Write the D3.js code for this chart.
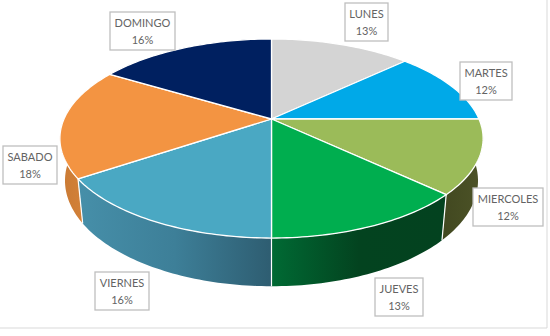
<!DOCTYPE html>
<meta charset="utf-8">
<style>
  html, body { margin: 0; padding: 0; background: #fff; }
  svg { display: block; }
</style>
<script src="https://d3js.org/d3.v7.min.js"></script>
<svg id="chart" width="550" height="336"></svg>
<script>
// (the labels show them rounded)
var days = ["LUNES", "MARTES", "MIERCOLES", "JUEVES", "VIERNES", "SABADO", "DOMINGO"];
var shares = [13, 12, 12, 13, 15.6, 18, 16.4];

var topColors = ["#d4d4d4", "#00a9e8", "#9bbb59", "#00ae4f", "#4aa8c3", "#f39442", "#002060"];
// wall gradient stops, left to right
var wallColors = {
  MIERCOLES: ["#414820", "#4d5327"],
  JUEVES: ["#006a34", "#03431f", "#03421f"],
  VIERNES: ["#468fa9", "#3d7f98", "#2e5d71"],
  SABADO: ["#c97a34", "#e08a3e"]
};
// top-left corner of each label box
var labelBoxes = {
  LUNES: [345, 3], MARTES: [460, 62], MIERCOLES: [473, 188], JUEVES: [375, 278],
  VIERNES: [95, 272], SABADO: [3, 146], DOMINGO: [110, 12]
};

var svg = d3.select("#chart");
var pct = d3.format(".0%");
var total = d3.sum(shares);

// picture frame
svg.append("path")
  .attr("d", "M0,328H547V0")
  .attr("fill", "none")
  .attr("stroke", "#d9d9d9")
  .attr("stroke-width", 1);

var arcs = d3.pie().sort(null)(shares);

// perspective disc: angle 0 at the top, clockwise
var cx = 271.5, tilt = 0.196;
function disc(y0, a, b) {
  return function(t) {
    var u = Math.sin(t), v = -Math.cos(t), w = 1 - tilt * v;
    return [cx + b * u / w, y0 + a * v / w];
  };
}
var topDisc = disc(119, 95.7, 207.5);
var lowDisc = disc(160, 101.5, 202.5);

function sweep(fn, t0, t1) {
  var n = Math.ceil(Math.abs(t1 - t0) / 0.02);
  return d3.range(n + 1).map(function(i) { return fn(t0 + (t1 - t0) * i / n); });
}

var line = d3.line();
var defs = svg.append("defs");

// side walls first, the top faces cover what is hidden
arcs.forEach(function(d, i) {
  var cols = wallColors[days[i]];
  if (!cols) return;
  var up = sweep(topDisc, d.startAngle, d.endAngle);
  var low = sweep(lowDisc, d.endAngle, d.startAngle);
  var all = up.concat(low);
  var ex = d3.extent(all, function(p) { return p[0]; });
  var g = defs.append("linearGradient")
    .attr("id", "wall" + i)
    .attr("gradientUnits", "userSpaceOnUse")
    .attr("x1", ex[0]).attr("x2", ex[1]).attr("y1", 0).attr("y2", 0);
  cols.forEach(function(c, k) {
    g.append("stop").attr("offset", k / (cols.length - 1)).attr("stop-color", c);
  });
  svg.append("path")
    .attr("d", line(all) + "Z")
    .attr("fill", "url(#wall" + i + ")");
});

// white edges between the walls
arcs.forEach(function(d, i) {
  if (!wallColors[days[i]]) return;
  svg.append("path")
    .attr("d", line([topDisc(d.startAngle), lowDisc(d.startAngle)]))
    .attr("stroke", "#fff")
    .attr("stroke-width", 1.2);
});

// top faces
arcs.forEach(function(d, i) {
  var pts = [[cx, 119]].concat(sweep(topDisc, d.startAngle, d.endAngle));
  svg.append("path")
    .attr("d", line(pts) + "Z")
    .attr("fill", topColors[i])
    .attr("stroke", "#fff")
    .attr("stroke-width", 1.3)
    .attr("stroke-linejoin", "round");
});

// data labels, Lato squeezed a bit to get the width of the original font
var squeeze = 0.92;
arcs.forEach(function(d, i) {
  var pos = labelBoxes[days[i]];
  var g = svg.append("g").attr("transform", "translate(" + pos[0] + "," + pos[1] + ")");
  var rect = g.append("rect")
    .attr("height", 38)
    .attr("fill", "#fff")
    .attr("stroke", "#bfbfbf")
    .attr("stroke-width", 1.3);
  var text = g.append("text")
    .attr("text-anchor", "middle")
    .attr("font-family", "Lato, 'Open Sans', sans-serif")
    .attr("font-size", 12)
    .attr("fill", "#636363");
  var name = text.append("tspan").attr("x", 0).attr("y", 15).text(days[i]);
  text.append("tspan").attr("x", 0).attr("y", 32).text(pct(shares[i] / total));
  var w = Math.round(name.node().getComputedTextLength() * squeeze) + 9;
  rect.attr("width", w);
  text.attr("transform", "translate(" + (w / 2) + ",0) scale(" + squeeze + ",1)");
});
</script>
